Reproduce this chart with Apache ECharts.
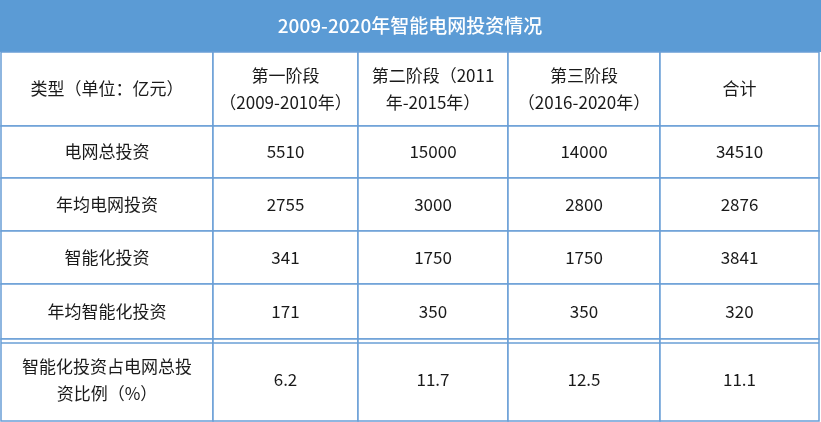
<!DOCTYPE html>
<html><head><meta charset="utf-8">
<script src="https://cdn.jsdelivr.net/npm/echarts@6/dist/echarts.min.js"></script>
<style>html,body{margin:0;padding:0;background:#fff}#c{width:821px;height:422px}</style>
</head><body><div id="c"></div>
<script>
const title = '2009-2020年智能电网投资情况';
const headers = ['类型（单位：亿元）', '第一阶段\n（2009-2010年）', '第二阶段（2011\n年-2015年）', '第三阶段\n（2016-2020年）', '合计'];
const rowLabels = ['电网总投资', '年均电网投资', '智能化投资', '年均智能化投资', '智能化投资占电网总投\n资比例（%）'];
const stage1 = ['5510', '2755', '341', '171', '6.2'];
const stage2 = ['15000', '3000', '1750', '350', '11.7'];
const stage3 = ['14000', '2800', '1750', '350', '12.5'];
const total = ['34510', '2876', '3841', '320', '11.1'];

const colEdges = [1, 213, 358, 508, 660, 819];
const rowEdges = [52, 126, 178, 231, 284, 339, 421];
const cells = [];
headers.forEach((h, c) => cells.push([c, 0, h]));
rowLabels.forEach((l, r) => {
  [l, stage1[r], stage2[r], stage3[r], total[r]].forEach((v, c) => cells.push([c, r + 1, v]));
});
const LINE = '#6a9fd6';
const chart = echarts.init(document.getElementById('c'));
chart.setOption({
  animation: false,
  grid: {left: 0, right: 0, top: 0, bottom: 0},
  xAxis: {type: 'value', min: 0, max: 821, show: false},
  yAxis: {type: 'value', min: 0, max: 422, inverse: true, show: false},
  series: [{
    type: 'custom',
    data: cells,
    renderItem: (params, api) => {
      const c = api.value(0), r = api.value(1);
      const p0 = api.coord([colEdges[c], rowEdges[r]]);
      const p1 = api.coord([colEdges[c + 1], rowEdges[r + 1]]);
      const children = [{
        type: 'rect',
        shape: {x: p0[0], y: p0[1], width: p1[0] - p0[0], height: p1[1] - p0[1]},
        style: {fill: '#fff', stroke: LINE, lineWidth: 1.5}
      }, {
        type: 'text',
        style: {
          text: cells[params.dataIndex][2], x: (p0[0] + p1[0]) / 2, y: (p0[1] + p1[1]) / 2,
          align: 'center', verticalAlign: 'middle', fill: '#1a1a1a',
          font: '17px "Noto Sans CJK SC", sans-serif', lineHeight: 27
        }
      }];
      if (r === 5) {
        children.push({type: 'line', shape: {x1: p0[0], y1: p0[1] + 4, x2: p1[0], y2: p0[1] + 4}, style: {stroke: LINE, lineWidth: 1.5}});
      }
      return {type: 'group', children};
    }
  }],
  graphic: [{
    type: 'rect', shape: {x: 0, y: 0, width: 821, height: 52}, style: {fill: '#5b9bd5'}
  }, {
    type: 'text', x: 410, y: 26,
    style: {text: title, align: 'center', verticalAlign: 'middle', fill: '#fff', font: '500 19px "Noto Sans CJK SC", sans-serif'}
  }]
});
</script></body></html>
